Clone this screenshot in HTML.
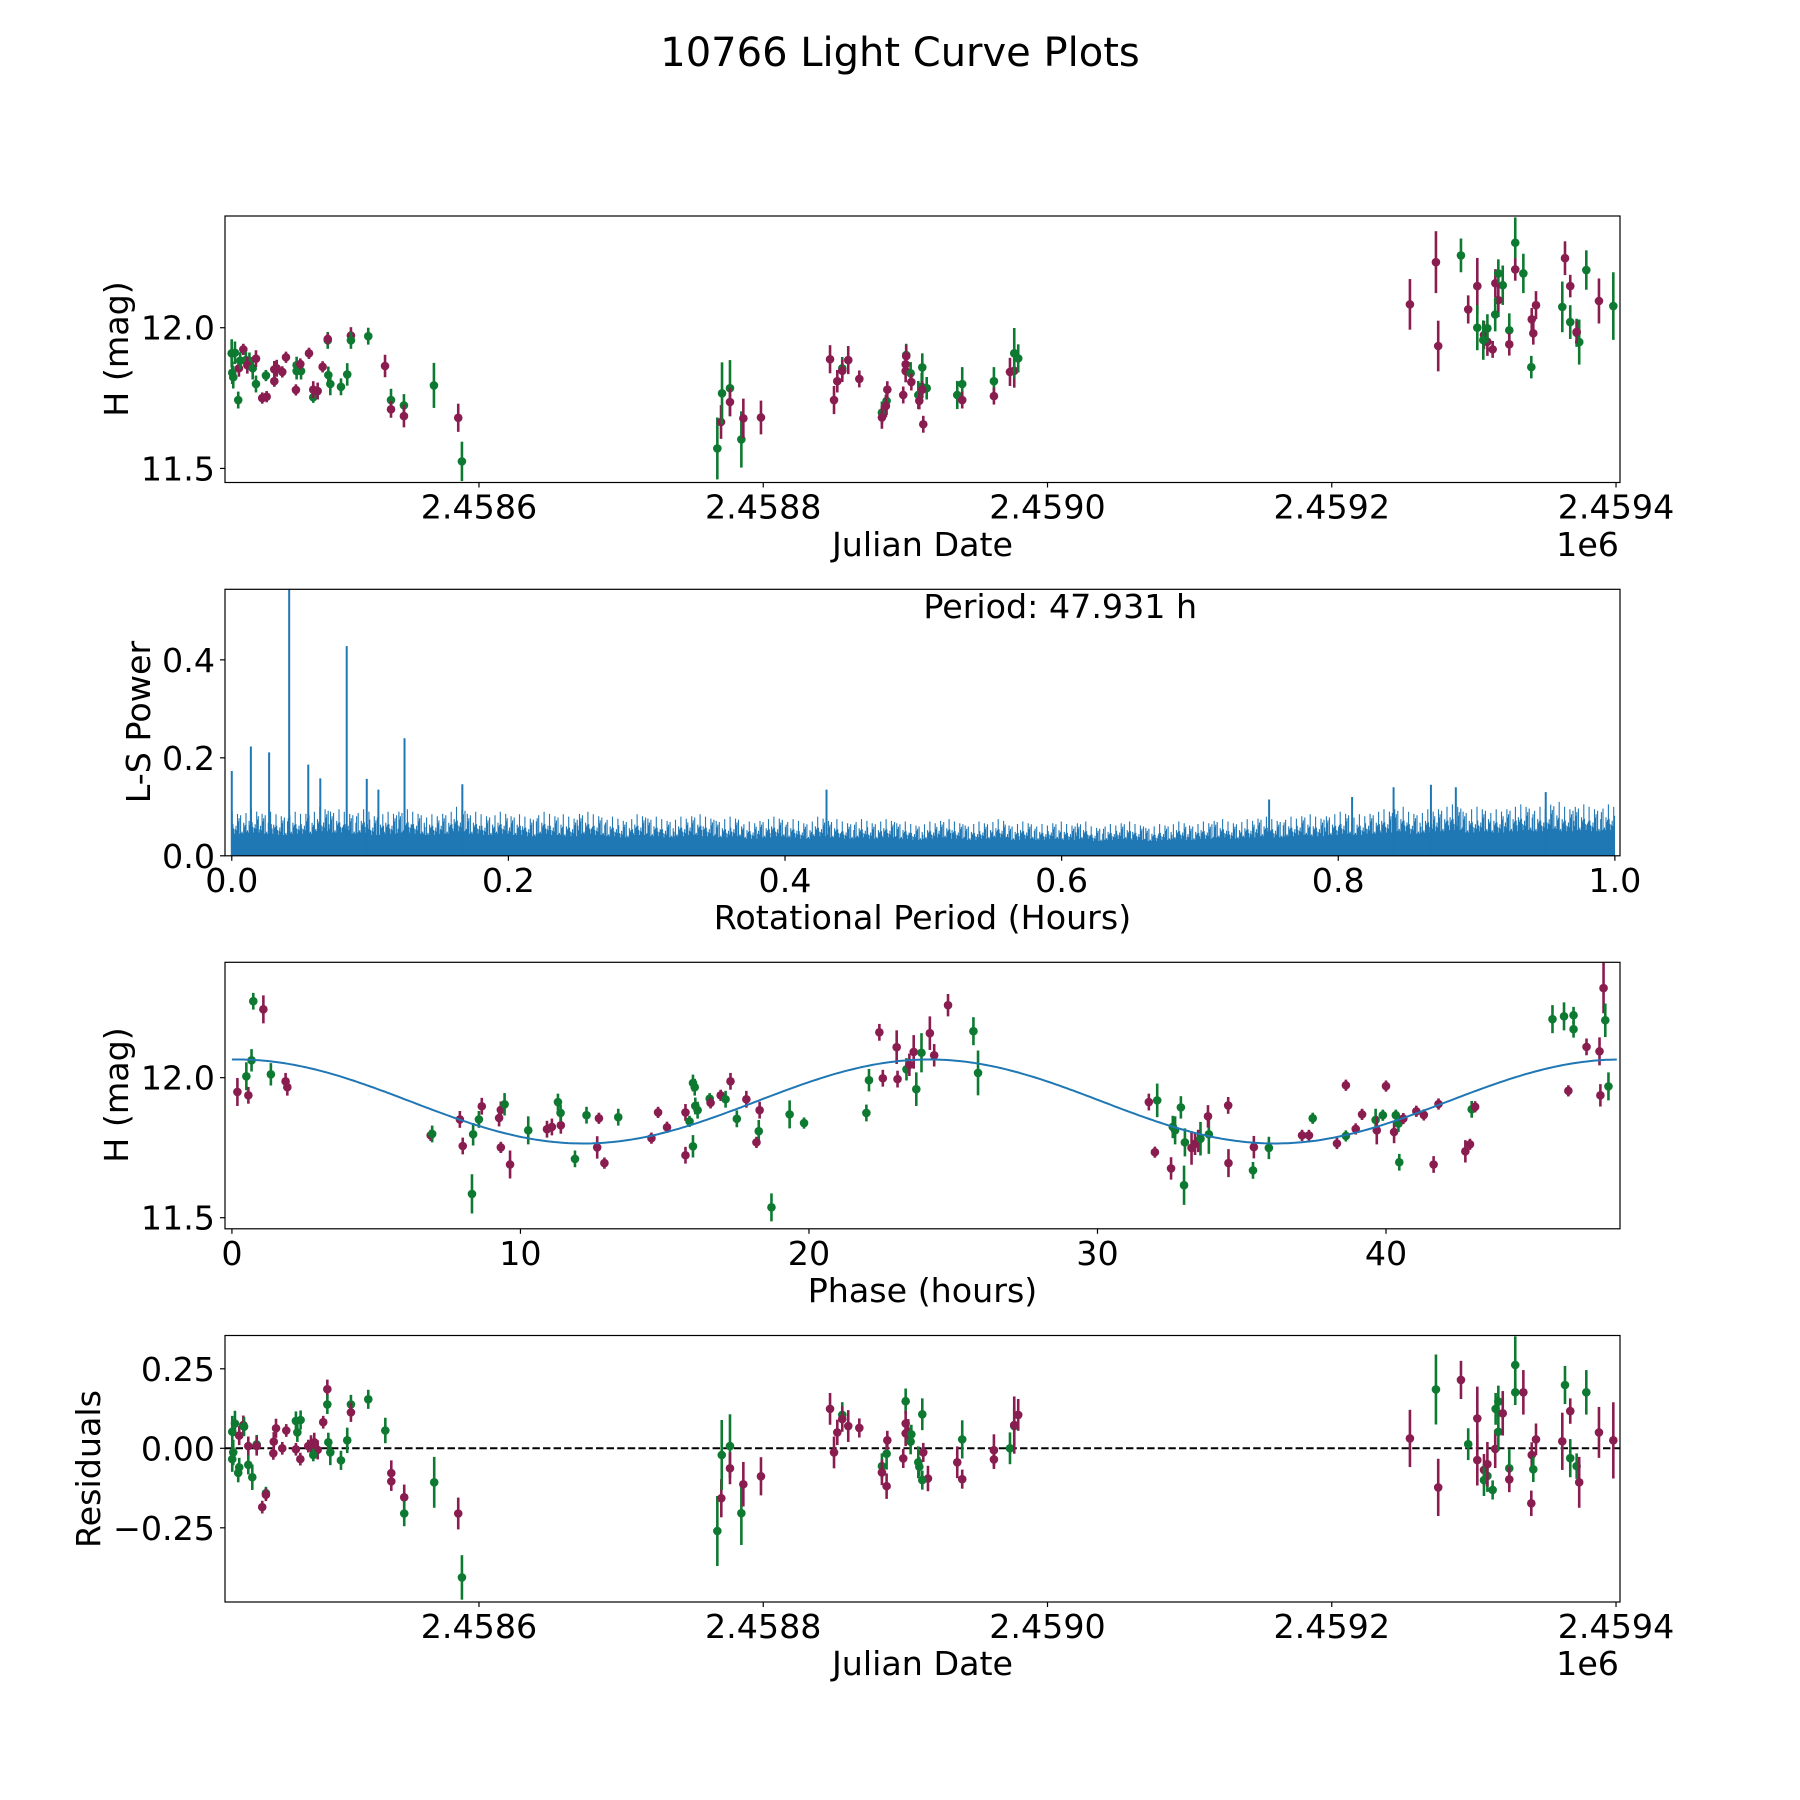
<!DOCTYPE html>
<html><head><meta charset="utf-8"><style>
html,body{margin:0;padding:0;background:#fff}
svg{display:block;font-family:"DejaVu Sans","Liberation Sans",sans-serif}
</style></head><body>
<svg id="fig" width="1800" height="1800" viewBox="0 0 1800 1800" xmlns="http://www.w3.org/2000/svg">
<rect x="0" y="0" width="1800" height="1800" fill="#fff"/>
<text x="900" y="66" font-size="40" text-anchor="middle">10766 Light Curve Plots</text>
<g id="p1"></g>
<g id="p2"></g>
<g id="p3"></g>
<g id="p4"></g>
</svg>
<script>
// ---- Panel 1: light curve (t = JD - 2458000) ----
const lcT = [426.0,428.3,426.4,427.1,430.6,431.1,434.2,432.0,436.0,438.5,437.0,440.8,443.1,443.1,447.5,450.6,450.1,456.0,457.7,456.0,461.6,464.2,471.7,471.7,474.8,474.3,471.2,480.4,483.4,483.4,486.5,490.0,493.6,493.6,494.0,495.4,502.9,507.3,509.9,509.9,522.1,533.9,538.1,538.1,547.2,547.2,568.3,585.4,588.0,
767.7,770.3,771.0,776.6,776.6,784.6,786.0,798.4,847.0,849.8,852.1,855.6,855.6,859.8,867.6,883.5,883.5,886.8,886.3,887.3,898.5,900.6,900.6,900.2,900.2,903.7,904.2,911.9,909.1,911.5,915.0,911.9,909.8,912.6,936.5,940.0,940.0,962.3,962.3,973.6,976.6,976.6,979.4,
1255.0,1273.3,1274.9,1290.9,1296.0,1302.4,1302.4,1307.1,1309.5,1313.2,1309.5,1306.6,1315.1,1317.2,1320.3,1317.2,1315.0,1324.9,1324.9,1329.1,1329.1,1334.8,1340.4,1340.7,1341.8,1343.7,1362.2,1364.1,1367.8,1367.8,1372.3,1374.1,1372.3,1379.1,1388.0,1398.1];
const lcMag = [11.909,11.911,11.84,11.824,11.743,11.856,11.923,11.883,11.885,11.882,11.867,11.856,11.89,11.80,11.75,11.755,11.83,11.852,11.856,11.81,11.843,11.895,11.867,11.846,11.846,11.871,11.779,11.909,11.753,11.78,11.775,11.861,11.955,11.96,11.832,11.80,11.79,11.834,11.972,11.955,11.97,11.864,11.743,11.71,11.724,11.686,11.795,11.68,11.525,
11.571,11.665,11.767,11.785,11.736,11.603,11.678,11.681,11.888,11.743,11.81,11.856,11.847,11.885,11.818,11.698,11.681,11.74,11.722,11.78,11.761,11.903,11.899,11.87,11.846,11.838,11.807,11.859,11.761,11.79,11.785,11.78,11.74,11.657,11.761,11.80,11.743,11.81,11.757,11.843,11.847,11.909,11.891,
12.083,12.233,11.935,12.257,12.065,12.148,12.0,11.974,11.95,11.923,11.998,11.956,12.158,12.193,12.151,12.098,12.047,11.991,11.941,12.302,12.207,12.193,11.86,12.03,11.98,12.08,12.074,12.247,12.148,12.02,11.982,11.949,11.985,12.205,12.095,12.077];
const lcErr = [.05,.04,.04,.04,.03,.03,.02,.03,.03,.03,.03,.04,.03,.03,.02,.02,.02,.03,.03,.02,.02,.02,.03,.03,.03,.02,.02,.02,.02,.03,.03,.02,.03,.02,.03,.04,.03,.04,.03,.03,.03,.04,.04,.03,.04,.04,.08,.05,.07,
.11,.06,.11,.10,.05,.10,.07,.06,.05,.05,.04,.04,.04,.05,.03,.04,.04,.05,.04,.03,.03,.04,.04,.04,.04,.04,.03,.05,.05,.05,.04,.03,.03,.03,.05,.06,.03,.05,.03,.05,.06,.09,.05,
.09,.11,.09,.06,.05,.10,.08,.05,.05,.03,.05,.07,.05,.05,.07,.06,.06,.06,.04,.09,.04,.07,.04,.04,.04,.05,.09,.06,.04,.06,.05,.08,.04,.07,.08,.12];
const lcBand = "GGGGGMMGGGMGMGMMGMMMMMGGGMMMGMMMGMGGGGMGGMGMGMGMGGMGGMGMMMMMGMMMGMGMMMGMMMGMGGGGMMMGGMGMMMGG".split("").concat("MMMGMMGMMMGGMGGMGGMGMGGMMMGMMGGGMGMG".split(""));
const lcTicks = [600,800,1000,1200,1400];
const lcTickLabels = ["2.4586","2.4588","2.4590","2.4592","2.4594"];
const magTicks = [11.5,12.0];
const magTickLabels = ["11.5","12.0"];

// ---- Panel 2: Lomb-Scargle periodogram ----
const lsBinStart = 0.0, lsBinWidth = 0.01;
const lsEnvelope = [0.09,0.095,0.09,0.085,0.09,0.09,0.1,0.095,0.09,0.095,0.085,0.09,0.095,0.09,0.085,0.09,0.1,0.09,0.085,0.09,
0.085,0.08,0.09,0.085,0.08,0.09,0.085,0.08,0.075,0.085,0.08,0.075,0.08,0.085,0.08,0.075,0.08,0.07,0.075,0.08,
0.075,0.07,0.08,0.075,0.07,0.075,0.07,0.075,0.07,0.065,0.07,0.075,0.07,0.065,0.07,0.075,0.065,0.07,0.065,0.07,
0.065,0.07,0.06,0.065,0.07,0.065,0.06,0.065,0.07,0.065,0.07,0.075,0.07,0.075,0.08,0.075,0.08,0.085,0.08,0.085,
0.09,0.085,0.09,0.095,0.1,0.09,0.095,0.1,0.105,0.095,0.1,0.095,0.1,0.105,0.1,0.11,0.1,0.105,0.1,0.105];
const lsPeakPeriod = [0.0,0.0138,0.027,0.0415,0.0553,0.064,0.0831,0.0976,0.106,0.1249,0.1667,0.43,0.75,0.81,0.84,0.867,0.885,0.95];
const lsPeakPower = [0.173,0.223,0.211,0.60,0.186,0.158,0.428,0.157,0.135,0.24,0.146,0.135,0.115,0.12,0.14,0.145,0.14,0.13];
const lsXTicks = [0.0,0.2,0.4,0.6,0.8,1.0];
const lsXTickLabels = ["0.0","0.2","0.4","0.6","0.8","1.0"];
const lsYTicks = [0.0,0.2,0.4];
const lsYTickLabels = ["0.0","0.2","0.4"];
const bestPeriodLabel = "Period: 47.931 h";

// ---- Panel 3: phase-folded ----
const phPhase = [0.19,0.5,0.57,0.68,0.74,1.09,1.35,1.86,1.92,6.89,6.94,7.9,8.0,8.32,8.36,8.56,8.66,9.26,9.32,9.45,9.32,9.64,10.27,10.92,11.09,11.4,11.3,11.39,11.89,12.29,12.72,12.66,12.91,13.39,14.54,14.77,15.08,15.72,15.72,15.86,15.98,16.04,16.06,16.14,15.98,16.56,16.59,16.94,17.11,17.28,17.5,17.83,18.29,18.26,18.18,18.7,19.33,19.83,21.99,22.08,22.44,22.56,23.04,23.07,23.38,23.48,23.63,23.72,23.9,
24.19,24.34,24.82,25.7,25.86,31.78,32.07,32.61,32.69,32.89,31.99,32.55,33.0,33.03,33.26,33.38,33.49,33.57,33.86,33.83,34.53,34.54,35.39,35.42,35.94,37.09,37.33,37.46,38.3,38.61,38.61,38.95,39.17,39.64,39.68,39.89,40.0,40.34,40.28,40.43,40.6,40.46,41.05,41.31,41.82,41.65,42.75,42.91,42.97,43.09,45.77,46.17,46.5,46.5,46.32,46.95,47.4,47.43,47.54,47.6,47.71];
const phMag = [11.949,12.005,11.937,12.062,12.273,12.244,12.012,11.987,11.966,11.794,11.799,11.851,11.756,11.585,11.798,11.851,11.898,11.856,11.885,11.905,11.751,11.69,11.812,11.816,11.824,11.83,11.913,11.874,11.71,11.866,11.855,11.751,11.695,11.859,11.784,11.876,11.823,11.876,11.723,11.844,11.981,11.966,11.899,11.884,11.755,11.925,11.91,11.937,11.923,11.987,11.853,11.923,11.884,11.809,11.769,11.537,11.869,11.838,11.874,11.991,12.162,11.998,12.109,11.995,12.03,12.046,12.092,11.959,12.089,
12.159,12.08,12.259,12.166,12.017,11.913,11.919,11.824,11.812,11.894,11.734,11.676,11.616,11.769,11.749,11.764,11.774,11.782,11.798,11.862,11.901,11.695,11.669,11.752,11.749,11.794,11.794,11.855,11.765,11.792,11.973,11.817,11.869,11.849,11.812,11.866,11.97,11.866,11.806,11.836,11.854,11.698,11.88,11.867,11.906,11.69,11.737,11.762,11.887,11.896,12.209,12.219,12.223,12.173,11.953,12.11,12.094,11.937,12.32,12.205,11.969];
const phErr = [.05,.05,.03,.04,.03,.05,.04,.03,.03,.02,.03,.03,.03,.07,.04,.03,.03,.03,.03,.04,.02,.05,.05,.03,.03,.03,.03,.03,.03,.03,.02,.04,.02,.03,.02,.02,.02,.03,.03,.02,.03,.03,.03,.03,.04,.02,.02,.02,.03,.03,.03,.03,.03,.04,.02,.05,.05,.02,.03,.04,.03,.03,.06,.03,.04,.04,.06,.06,.07,
.06,.04,.04,.05,.08,.03,.06,.04,.05,.04,.02,.04,.07,.05,.06,.04,.04,.06,.07,.04,.03,.05,.03,.04,.04,.02,.02,.02,.02,.02,.02,.02,.02,.04,.05,.02,.02,.02,.04,.03,.02,.03,.02,.02,.02,.03,.04,.02,.03,.02,.05,.05,.03,.03,.02,.03,.05,.04,.09,.06,.05];
const phBand = "MGMGGMGMMMGMMGGGMMMGMMGMMMGGGGMMMGMMMMMGGGGGGGMMGMGMMGMGGGGGMMMMGMMGG".split("").concat("MMMGGMGGGGMMGGMMMGGMMMGMGMMGMGMMMGMGMGMGMGMMMMMMGMGGGGMMMMMGGG".split(""));
const phXTicks = [0,10,20,30,40];
const phXTickLabels = ["0","10","20","30","40"];
const modelMean = [11.915];
const modelAmp = [0.15];
const modelPeriod = [47.931/2];
const modelPhase0 = [0.2];

// ---- Panel 4: residuals ----
const rsT = [426.4,427.1,426.4,428.3,431.3,434.2,434.7,430.6,431.3,437.7,437.7,440.5,443.6,443.6,450.1,450.1,447.5,455.6,457.2,455.3,461.6,464.4,471.2,474.5,472.2,471.2,474.3,479.9,481.8,484.1,486.5,483.4,490.4,493.3,493.3,494.0,495.4,502.9,507.3,509.9,509.9,522.1,534.1,538.3,538.3,547.4,547.4,568.5,585.4,588.0,
767.7,770.5,770.8,776.6,776.6,784.6,786.0,798.4,847.0,849.8,852.1,855.6,855.6,859.8,867.6,883.5,883.5,886.8,886.8,887.3,898.5,900.2,900.2,900.2,902.0,904.2,903.7,911.9,909.1,912.6,915.9,909.8,911.9,936.5,940.0,940.0,962.3,962.3,973.6,976.6,976.6,979.4,
1255.0,1273.3,1274.9,1290.9,1296.0,1302.4,1302.4,1307.1,1309.5,1313.2,1307.1,1309.5,1315.0,1315.3,1317.2,1317.2,1320.3,1324.9,1324.9,1329.1,1329.1,1334.8,1340.4,1340.7,1341.8,1343.7,1362.2,1364.1,1367.8,1367.8,1372.3,1374.1,1379.1,1388.0,1398.1];
const rsVal = [0.052,-0.013,-0.034,0.078,0.04,0.073,0.068,-0.077,-0.06,0.007,-0.052,-0.091,0.012,0.007,-0.141,-0.146,-0.185,0.021,0.063,-0.016,0,0.056,0.086,0.089,0.05,-0.003,-0.034,0.007,0.011,0.019,-0.005,-0.021,0.082,0.186,0.138,0.019,-0.013,-0.038,0.025,0.138,0.113,0.154,0.056,-0.078,-0.104,-0.154,-0.205,-0.107,-0.205,-0.406,
-0.26,-0.157,-0.021,0.007,-0.063,-0.204,-0.113,-0.088,0.124,-0.013,0.05,0.105,0.092,0.07,0.064,-0.056,-0.076,-0.017,-0.119,0.025,-0.032,0.148,0.078,0.047,0.052,0.044,0.021,0.107,-0.044,-0.013,-0.095,-0.058,-0.1,-0.044,0.028,-0.097,-0.006,-0.035,0,0.07,0.073,0.105,
0.031,0.185,-0.123,0.215,0.013,0.094,-0.037,-0.068,-0.087,-0.131,-0.1,-0.05,-0.002,0.124,0.052,0.147,0.11,-0.063,-0.098,0.262,0.176,0.176,-0.173,-0.021,-0.066,0.028,0.022,0.199,0.117,-0.031,-0.056,-0.107,0.176,0.05,0.025];
const rsErr = [.05,.04,.04,.04,.03,.03,.03,.03,.03,.03,.03,.04,.03,.03,.02,.02,.02,.03,.03,.02,.02,.02,.03,.03,.03,.02,.02,.02,.03,.03,.03,.02,.02,.03,.03,.03,.04,.03,.04,.03,.03,.03,.04,.04,.03,.04,.04,.08,.05,.07,
.11,.06,.11,.10,.05,.10,.07,.06,.05,.05,.04,.04,.04,.05,.03,.04,.04,.05,.04,.03,.03,.04,.04,.04,.04,.03,.04,.05,.05,.03,.04,.03,.03,.05,.06,.03,.05,.03,.05,.06,.09,.05,
.09,.11,.09,.06,.05,.10,.08,.05,.05,.03,.05,.07,.06,.05,.06,.05,.07,.06,.04,.09,.04,.07,.04,.04,.04,.05,.09,.06,.04,.06,.04,.08,.07,.08,.12];
const rsBand = "GGGGMMGGGMGGGMGMMMMMMMGGGMMMMMMGMMGGGGGGMGGMMMGGMG".split("").concat("GMGGMGMMMMMGMMMGMGMMMGMMMGGGGMMGGMGMMMGG".split("")).concat("MMMGMMGMMMGGGMMGGGMGMGGMMMGMMGMGGMG".split(""));
const rsTicks = [0.25,0.0,-0.25];
const rsTickLabels = ["0.25","0.00","\u22120.25"];

const NS = "http://www.w3.org/2000/svg";
const COL = {M:"#8a1d50", G:"#0e7a31"};
const FS = 33.3;
function mk(parent, tag, attrs, text){
  const e = document.createElementNS(NS, tag);
  for (const k in attrs) e.setAttribute(k, attrs[k]);
  if (text !== undefined) e.textContent = text;
  parent.appendChild(e);
  return e;
}
function axes(xmin,xmax,ymin,ymax,top,bottom){
  const L=225,R=1620;
  return {L,R,top,bottom,
    x:v=>L+(v-xmin)/(xmax-xmin)*(R-L),
    y:v=>bottom-(v-ymin)/(ymax-ymin)*(bottom-top)};
}
function frame(g, ax, name){
  const r = mk(g,"rect",{x:ax.L,y:ax.top,width:ax.R-ax.L,height:ax.bottom-ax.top,fill:"none",stroke:"#000","stroke-width":1.2});
  
  
}
function xticks(g, ax, vals, labels, name){
  vals.forEach((v,i)=>{
    const X = ax.x(v);
    const t = mk(g,"line",{x1:X,x2:X,y1:ax.bottom,y2:ax.bottom+5,stroke:"#000","stroke-width":1.2});
    
    
    const l = mk(g,"text",{x:X,y:ax.bottom+36,"font-size":FS,"text-anchor":"middle"},labels[i]);
    
    
  });
}
function yticks(g, ax, vals, labels, name){
  vals.forEach((v,i)=>{
    const Y = ax.y(v);
    const t = mk(g,"line",{x1:ax.L-5,x2:ax.L,y1:Y,y2:Y,stroke:"#000","stroke-width":1.2});
    
    
    const l = mk(g,"text",{x:ax.L-10,y:Y+12,"font-size":FS,"text-anchor":"end"},labels[i]);
    
    
  });
}
function label(g, x, y, txt, name, rot){
  const a = {x:x,y:y,"font-size":FS,"text-anchor":"middle"};
  if (rot) a.transform = "rotate(-90 "+x+" "+y+")";
  const l = mk(g,"text",a,txt);
  
  
}
function errpoints(g, ax, xs, ys, es, bands, name){
  xs.forEach((xv,i)=>{
    const c = COL[bands[i]] || COL.M;
    const X = ax.x(xv), Y1 = ax.y(ys[i]-es[i]), Y2 = ax.y(ys[i]+es[i]);
    const b = mk(g,"line",{x1:X,x2:X,y1:Y1,y2:Y2,stroke:c,"stroke-width":2.6});
    
    
    const p = mk(g,"circle",{cx:X,cy:ax.y(ys[i]),r:4.3,fill:c});
    
    
  });
}
function clip(id, ax){
  const svg = document.getElementById("fig");
  let defs = svg.querySelector("defs") || mk(svg,"defs",{});
  const cp = mk(defs,"clipPath",{id:id});
  mk(cp,"rect",{x:ax.L,y:ax.top,width:ax.R-ax.L,height:ax.bottom-ax.top});
}

// Panel 1
(function(){
  const g = document.getElementById("p1");
  const ax = axes(421.3,1402.8,11.45,12.397,216,482.5);
  clip("c1",ax);
  const d = mk(g,"g",{"clip-path":"url(#c1)"});
  
  
  errpoints(d, ax, lcT, lcMag, lcErr, lcBand, "lc");
  frame(g, ax, "lc");
  xticks(g, ax, lcTicks, lcTickLabels, "lc");
  yticks(g, ax, magTicks, magTickLabels, "lc");
  label(g, 922.5, 556, "Julian Date", "lc-x-axis-title");
  const o = mk(g,"text",{x:1619,y:556,"font-size":FS,"text-anchor":"end"},"1e6");
  
  
  label(g, 128, 349, "H (mag)", "lc-y-axis-title", true);
})();

// Panel 2
(function(){
  const g = document.getElementById("p2");
  const ax = axes(-0.0049,1.0037,0,0.544,589.3,855.8);
  clip("c2",ax);
  const d = mk(g,"g",{"clip-path":"url(#c2)"});
  
  
  // rendering style: irregular tooth pattern within each bin (not data)
  const teeth = [1,0.55,0.78,0.5,0.66,0.92,0.58,0.72,0.5,0.85,0.6,0.7,0.52,0.95,0.62,0.75,0.5,0.68];
  let path = "";
  let fill = "M"+ax.x(0)+" "+ax.y(0);
  lsEnvelope.forEach((env,i)=>{
    const x0 = lsBinStart + i*lsBinWidth;
    const xa = ax.x(x0), xb = ax.x(x0+lsBinWidth);
    fill += " L"+xa+" "+ax.y(env*0.45)+" L"+xb+" "+ax.y(env*0.45);
    const n = teeth.length;
    for (let k=0;k<n;k++){
      const f = teeth[(k*7 + i*5) % n];
      const X = xa + (k+0.5)*(xb-xa)/n;
      path += "M"+X.toFixed(1)+" "+ax.y(0)+"V"+ax.y(env*f).toFixed(1);
    }
  });
  fill += " L"+ax.x(1)+" "+ax.y(0)+" Z";
  const f = mk(d,"path",{d:fill,fill:"#1f77b4"});
  
  
  const s = mk(d,"path",{d:path,stroke:"#1f77b4","stroke-width":1.1,fill:"none"});
  
  
  lsPeakPeriod.forEach((p,i)=>{
    const X = ax.x(p);
    const l = mk(d,"line",{x1:X,x2:X,y1:ax.y(0),y2:ax.y(lsPeakPower[i]),stroke:"#1f77b4","stroke-width":2});
    
    
  });
  frame(g, ax, "ls");
  xticks(g, ax, lsXTicks, lsXTickLabels, "ls");
  yticks(g, ax, lsYTicks, lsYTickLabels, "ls");
  label(g, 922.5, 929, "Rotational Period (Hours)", "ls-x-axis-title");
  label(g, 150, 722, "L-S Power", "ls-y-axis-title", true);
  const t = mk(g,"text",{x:ax.x(0.5),y:618,"font-size":FS},bestPeriodLabel);
  
  
})();

// Panel 3
(function(){
  const g = document.getElementById("p3");
  const ax = axes(-0.24,48.11,11.4604,12.412,962.3,1228.8);
  clip("c3",ax);
  const d = mk(g,"g",{"clip-path":"url(#c3)"});
  
  
  errpoints(d, ax, phPhase, phMag, phErr, phBand, "phase");
  let pts = [];
  for (let k=0;k<=400;k++){
    const ph = 48*k/400;
    const m = modelMean[0] + modelAmp[0]*Math.cos(2*Math.PI*(ph-modelPhase0[0])/modelPeriod[0]);
    pts.push(ax.x(ph).toFixed(1)+","+ax.y(m).toFixed(1));
  }
  const ml = mk(d,"polyline",{points:pts.join(" "),fill:"none",stroke:"#1f77b4","stroke-width":2});
  
  
  frame(g, ax, "phase");
  xticks(g, ax, phXTicks, phXTickLabels, "phase");
  yticks(g, ax, magTicks, magTickLabels, "phase");
  label(g, 922.5, 1302, "Phase (hours)", "phase-x-axis-title");
  label(g, 128, 1095, "H (mag)", "phase-y-axis-title", true);
})();

// Panel 4
(function(){
  const g = document.getElementById("p4");
  const ax = axes(421.3,1402.8,-0.4833,0.3547,1335.5,1602);
  clip("c4",ax);
  const d = mk(g,"g",{"clip-path":"url(#c4)"});
  
  
  const z = mk(d,"line",{x1:ax.L,x2:ax.R,y1:ax.y(0),y2:ax.y(0),stroke:"#000","stroke-width":2,"stroke-dasharray":"7.4,3.2"});
  
  
  errpoints(d, ax, rsT, rsVal, rsErr, rsBand, "residual");
  frame(g, ax, "residual");
  xticks(g, ax, lcTicks, lcTickLabels, "residual");
  yticks(g, ax, rsTicks, rsTickLabels, "residual");
  label(g, 922.5, 1675, "Julian Date", "residual-x-axis-title");
  const o = mk(g,"text",{x:1619,y:1675,"font-size":FS,"text-anchor":"end"},"1e6");
  
  
  label(g, 100, 1469, "Residuals", "residual-y-axis-title", true);
})();
</script>
</body></html>
